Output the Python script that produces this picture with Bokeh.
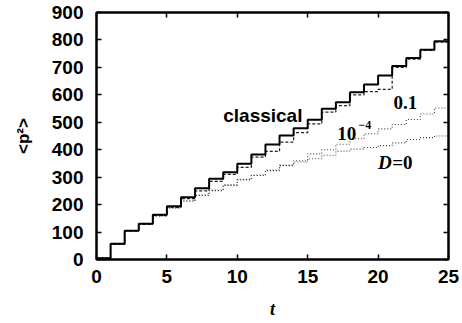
from bokeh.plotting import figure
from bokeh.models import LinearAxis, FixedTicker, Range1d
from bokeh.embed import file_html
from bokeh.resources import INLINE
from bokeh.core.properties import value

# kick number t (value holds over [t, t+1))
t = list(range(26))
classical = [5, 57, 105, 130, 163, 194, 227, 260, 294, 318, 349, 383, 419, 452, 478,
             509, 549, 573, 609, 638, 670, 705, 734, 764, 795, 795]
d_01 = [5, 55, 104, 128, 160, 190, 222, 250, 285, 310, 336, 373, 394, 428, 462,
        494, 537, 561, 600, 612, 620, 700, 730, 762, 792, 792]
d_1e4 = [5, 55, 104, 130, 160, 188, 213, 235, 253, 272, 292, 308, 326, 344, 360,
         385, 400, 420, 440, 458, 476, 492, 510, 530, 552, 570]
d_0 = [5, 55, 104, 130, 160, 188, 213, 233, 251, 270, 290, 306, 324, 342, 355,
       367, 380, 395, 402, 408, 415, 425, 437, 444, 450, 452]

x_ticks = [0, 5, 10, 15, 20, 25]
y_ticks = [0, 100, 200, 300, 400, 500, 600, 700, 800, 900]

p = figure(width=462, height=323, output_backend="svg", toolbar_location=None,
           x_range=Range1d(0, 25), y_range=Range1d(0, 900),
           min_border_left=96, min_border_right=14, min_border_top=12, min_border_bottom=64)
p.grid.visible = False
p.background_fill_color = "white"
p.border_fill_color = "white"
p.outline_line_color = "black"
p.outline_line_width = 2

SANS = "Liberation Sans"
SERIF = "Liberation Serif"

for ax, ticks in ((p.xaxis[0], x_ticks), (p.yaxis[0], y_ticks)):
    ax.ticker = FixedTicker(ticks=ticks)
    ax.axis_line_width = 2
    ax.axis_line_color = "black"
    ax.major_tick_in = 5
    ax.major_tick_out = 0
    ax.major_tick_line_width = 1.5
    ax.minor_tick_line_color = None
    ax.major_label_text_font = SANS
    ax.major_label_text_font_style = "bold"
    ax.major_label_text_font_size = "19px"
    ax.major_label_text_color = "black"
    ax.axis_label_text_color = "black"

p.xaxis.major_label_standoff = 10
p.yaxis.major_label_standoff = 13
p.xaxis.axis_label = "t"
p.xaxis.axis_label_text_font = SERIF
p.xaxis.axis_label_text_font_style = "bold italic"
p.xaxis.axis_label_text_font_size = "18px"
p.xaxis.axis_label_standoff = 13
p.yaxis.axis_label = "<p²>"
p.yaxis.axis_label_text_font = SANS
p.yaxis.axis_label_text_font_style = "bold"
p.yaxis.axis_label_text_font_size = "17px"
p.yaxis.axis_label_standoff = 16

for side, ticks in (("above", x_ticks), ("right", y_ticks)):
    ax = LinearAxis(ticker=FixedTicker(ticks=ticks), axis_line_width=2,
                    major_tick_in=5, major_tick_out=0, major_tick_line_width=1.5,
                    minor_tick_line_color=None, major_label_text_font_size="0px",
                    major_label_standoff=0)
    p.add_layout(ax, side)

p.step(t, d_0, mode="after", line_color="#444444", line_width=1.1, line_dash="1 2")
p.step(t, d_1e4, mode="after", line_color="#444444", line_width=1.1, line_dash="1 2")
p.step(t, d_01, mode="after", line_color="#222222", line_width=1.2, line_dash="3 2")
p.step(t, classical, mode="after", line_color="black", line_width=2)

def label(x, y, txt, font, style, size):
    p.text(x=[x], y=[y], text=[txt], text_font=value(font), text_font_style=style,
           text_font_size=size, text_color="black", text_align="left",
           text_baseline="alphabetic")

label(9.0, 525, "classical", SANS, "bold", "19px")
label(21.1, 572, "0.1", SERIF, "bold", "19px")
label(17.1, 459, "10", SERIF, "bold", "19px")
label(18.6, 490, "−4", SERIF, "bold", "12px")
label(20.0, 353, "D", SERIF, "bold italic", "19px")
label(21.0, 353, "=0", SERIF, "bold", "19px")

open("out.html", "w").write(file_html(p, INLINE))
